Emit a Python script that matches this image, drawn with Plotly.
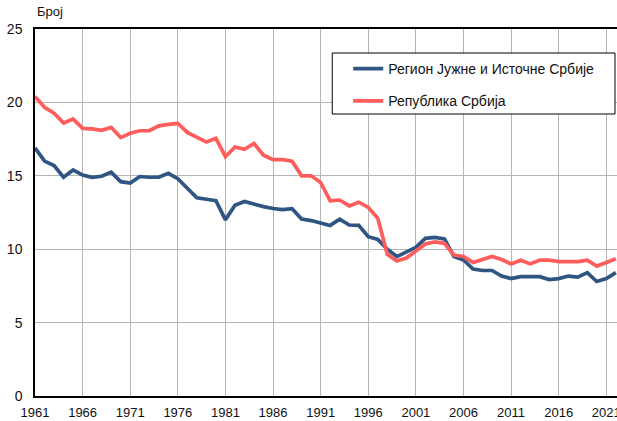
import plotly.graph_objects as go

years = list(range(1961, 2023))

south_east = [16.9, 16.0, 15.7, 14.9, 15.4, 15.05, 14.9, 14.97, 15.25, 14.6,
              14.5, 14.95, 14.9, 14.9, 15.17, 14.8, 14.15, 13.5, 13.4, 13.3,
              12.0, 13.0, 13.25, 13.05, 12.9, 12.77, 12.7, 12.76, 12.06, 11.95,
              11.8, 11.62, 12.04, 11.65, 11.62, 10.85, 10.67, 10.0, 9.5, 9.83,
              10.13, 10.74, 10.8, 10.7, 9.5, 9.27, 8.65, 8.55, 8.55, 8.17,
              8.0, 8.13, 8.13, 8.13, 7.93, 8.0, 8.17, 8.1, 8.4, 7.8,
              8.0, 8.4]

serbia = [20.4, 19.67, 19.26, 18.6, 18.87, 18.23, 18.2, 18.1, 18.3, 17.6,
          17.9, 18.07, 18.07, 18.4, 18.5, 18.57, 17.96, 17.6, 17.3, 17.55,
          16.3, 16.96, 16.8, 17.2, 16.4, 16.1, 16.1, 16.0, 15.0, 15.0,
          14.55, 13.3, 13.35, 12.95, 13.2, 12.85, 12.1, 9.65, 9.2, 9.4,
          9.9, 10.35, 10.5, 10.4, 9.6, 9.5, 9.1, 9.33, 9.5, 9.3,
          9.0, 9.25, 9.0, 9.25, 9.25, 9.15, 9.15, 9.15, 9.25, 8.85,
          9.1, 9.35]

series_names = ["Регион Јужне и Источне Србије", "Република Србија"]
series_colors = ["#2f5583", "#ff5c5c"]
x_ticks = list(range(1961, 2022, 5))
y_ticks = [0, 5, 10, 15, 20, 25]
y_title = "Број"

FONT = "Liberation Sans, Arial, sans-serif"
TXT = "#111111"

# figure is slightly wider than the 617px window so the plot runs off the right edge
W, H = 622, 421
PL, PR, PT, PB = 34.5, 622, 29, 396
ml, mr, mt, mb = PL, W - PR, PT, H - PB
pw, ph = PR - PL, PB - PT


def px(x):  # screen x -> paper
    return (x - PL) / pw


def py(y):  # screen y -> paper
    return (PB - y) / ph


fig = go.Figure()
for name, vals, col, grp in zip(series_names, [south_east, serbia], series_colors, ["a", "b"]):
    fig.add_trace(go.Scatter(
        x=years, y=vals, mode="lines", name=name, legendgroup=grp,
        line=dict(color=col, width=3.7),
    ))

fig.update_layout(
    width=W, height=H,
    margin=dict(l=ml, r=mr, t=mt, b=mb, pad=0, autoexpand=False),
    paper_bgcolor="white", plot_bgcolor="white",
    font=dict(family=FONT, size=13, color=TXT),
    showlegend=True,
    legend=dict(
        x=px(348), y=py(53),
        xref="paper", yref="paper",
        xanchor="left", yanchor="top",
        bgcolor="rgba(0,0,0,0)", borderwidth=0,
        tracegroupgap=11,
        font=dict(family=FONT, size=14, color=TXT),
        traceorder="grouped",
    ),
    xaxis=dict(
        range=[1961, 1961 + pw / 9.53],
        tickmode="array", tickvals=x_ticks, ticktext=[str(t) for t in x_ticks],
        showgrid=True, gridcolor="#b5b5b5", gridwidth=1,
        showline=True, linecolor="black", linewidth=1.5, mirror=True,
        ticks="", ticklabelstandoff=4, zeroline=False, automargin=False,
        ticklabeloverflow="allow",
        tickfont=dict(family=FONT, size=13, color=TXT),
    ),
    yaxis=dict(
        range=[0, 25], tickmode="array", tickvals=y_ticks,
        showgrid=True, gridcolor="#b5b5b5", gridwidth=1,
        showline=True, linecolor="black", linewidth=1.5, mirror=False,
        ticks="", ticklabelstandoff=8, zeroline=False, automargin=False,
        tickfont=dict(family=FONT, size=14, color=TXT),
    ),
)

# legend frame (white box with border)
fig.add_shape(
    type="rect", xref="paper", yref="paper",
    x0=px(332), x1=px(615), y0=py(114), y1=py(53),
    line=dict(color="black", width=1), fillcolor="white", layer="above",
)

fig.add_annotation(
    text=y_title, xref="paper", yref="paper",
    x=0, y=1, xanchor="left", yanchor="bottom", yshift=8,
    showarrow=False, font=dict(family=FONT, size=13, color=TXT),
)

fig.write_html(
    "out.html",
    config={"displayModeBar": False},
    post_script="document.body.style.margin='0';document.body.style.overflow='hidden';",
)
